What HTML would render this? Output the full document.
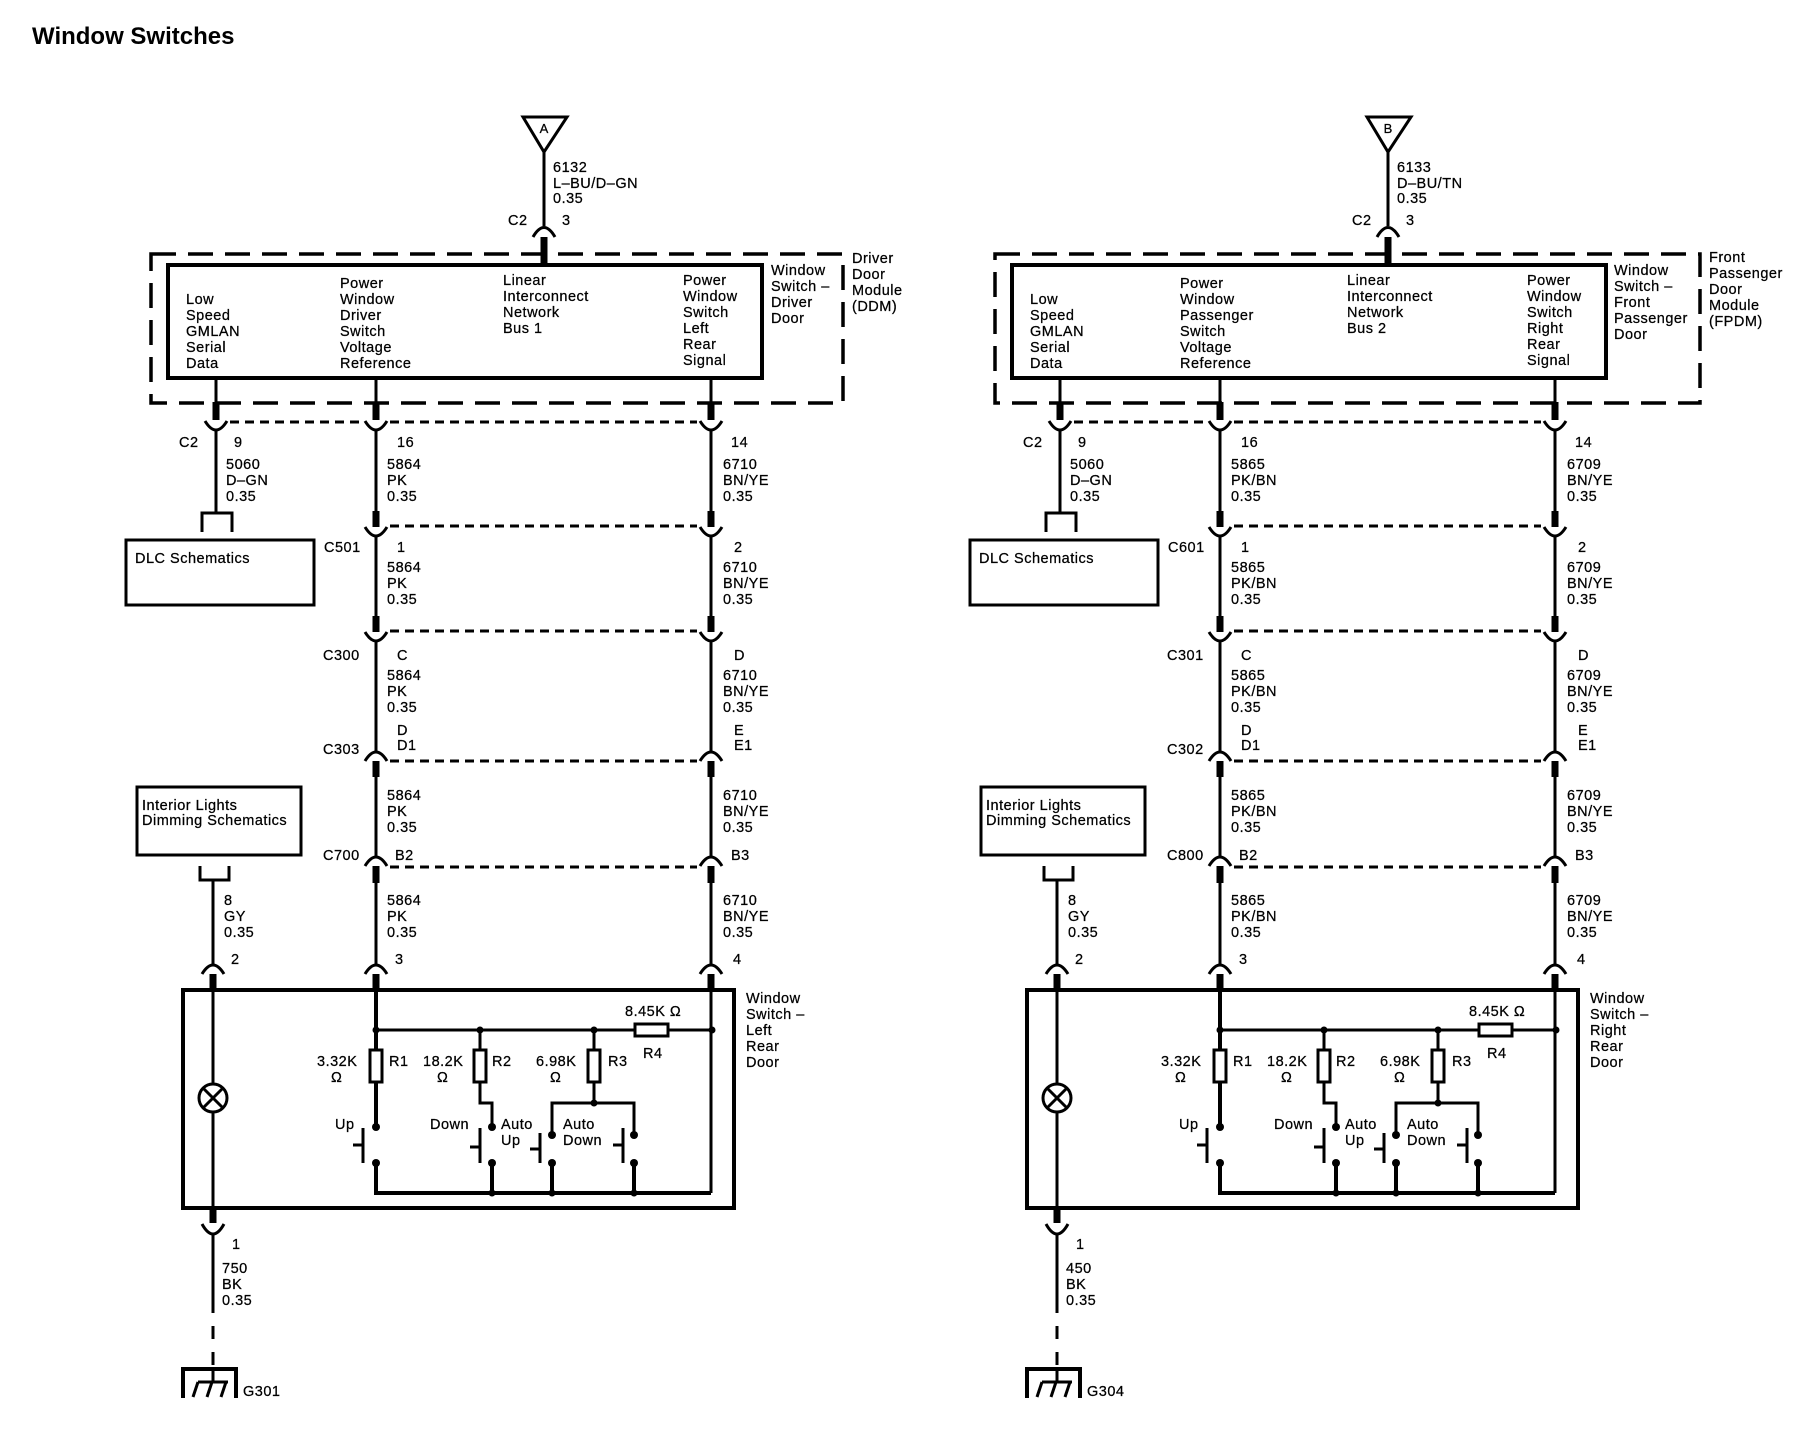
<!DOCTYPE html>
<html><head><meta charset="utf-8"><style>
html,body{margin:0;padding:0;background:#fff;}
svg{display:block;}
text{font-family:"Liberation Sans",Arial,sans-serif;font-size:14.5px;letter-spacing:0.5px;fill:#000;stroke:#000;stroke-width:0.25;}
.t{font-size:24px;font-weight:bold;letter-spacing:0;stroke-width:0;}
.w{stroke:#000;stroke-width:3;fill:none;}
.k{stroke:#000;stroke-width:7;fill:none;}
.s{stroke:#000;stroke-width:4;fill:none;}
.d{stroke:#000;stroke-width:3;fill:none;stroke-dasharray:9 6;}
.D{stroke:#000;stroke-width:3.5;fill:none;stroke-dasharray:25 12;}
.a{stroke:#000;stroke-width:3;fill:none;}
</style></head><body>
<svg width="1814" height="1440" viewBox="0 0 1814 1440" xmlns="http://www.w3.org/2000/svg">
<text class="t" x="32" y="44">Window Switches</text>
<defs>
<g id="L">
 <path d="M523,117 L567,117 L544,152 Z" class="w"/>
 <line x1="544" y1="152" x2="544" y2="226" class="w"/>
 <path d="M533,237 Q544,218 555,237" class="a"/>
 <line x1="544" y1="237" x2="544" y2="265" class="k"/>
 <rect x="168" y="265" width="594" height="113" class="s"/>
 <line x1="216" y1="378" x2="216" y2="402" class="w"/>
 <line x1="376" y1="378" x2="376" y2="402" class="w"/>
 <line x1="711" y1="378" x2="711" y2="402" class="w"/>
 <line x1="216" y1="402" x2="216" y2="420" class="k"/>
 <line x1="376" y1="402" x2="376" y2="420" class="k"/>
 <line x1="711" y1="402" x2="711" y2="420" class="k"/>
 <path d="M205,421 Q216,439 227,421" class="a"/>
 <path d="M365,421 Q376,439 387,421" class="a"/>
 <path d="M700,421 Q711,439 722,421" class="a"/>
 <line x1="230" y1="422" x2="362" y2="422" class="d"/>
 <line x1="390" y1="422" x2="697" y2="422" class="d"/>
 <line x1="216" y1="430" x2="216" y2="513" class="w"/>
 <path d="M202,532 L202,513 L232,513 L232,532" class="w"/>
 <rect x="126" y="540" width="188" height="65" class="w"/>
 <line x1="376" y1="430" x2="376" y2="511" class="w"/>
 <line x1="711" y1="430" x2="711" y2="511" class="w"/>
 <line x1="376" y1="511" x2="376" y2="527" class="k"/>
 <line x1="711" y1="511" x2="711" y2="527" class="k"/>
 <path d="M365,527 Q376,545 387,527" class="a"/>
 <path d="M700,527 Q711,545 722,527" class="a"/>
 <line x1="390" y1="526" x2="697" y2="526" class="d"/>
 <line x1="376" y1="536" x2="376" y2="616" class="w"/>
 <line x1="711" y1="536" x2="711" y2="616" class="w"/>
 <line x1="376" y1="616" x2="376" y2="632" class="k"/>
 <line x1="711" y1="616" x2="711" y2="632" class="k"/>
 <path d="M365,632 Q376,650 387,632" class="a"/>
 <path d="M700,632 Q711,650 722,632" class="a"/>
 <line x1="390" y1="631" x2="697" y2="631" class="d"/>
 <line x1="376" y1="641" x2="376" y2="752" class="w"/>
 <line x1="711" y1="641" x2="711" y2="752" class="w"/>
 <path d="M365,761 Q376,743 387,761" class="a"/>
 <path d="M700,761 Q711,743 722,761" class="a"/>
 <line x1="390" y1="761" x2="697" y2="761" class="d"/>
 <line x1="376" y1="761" x2="376" y2="777" class="k"/>
 <line x1="711" y1="761" x2="711" y2="777" class="k"/>
 <line x1="376" y1="777" x2="376" y2="857" class="w"/>
 <line x1="711" y1="777" x2="711" y2="857" class="w"/>
 <path d="M365,866 Q376,848 387,866" class="a"/>
 <path d="M700,866 Q711,848 722,866" class="a"/>
 <line x1="390" y1="867" x2="697" y2="867" class="d"/>
 <line x1="376" y1="866" x2="376" y2="883" class="k"/>
 <line x1="711" y1="866" x2="711" y2="883" class="k"/>
 <line x1="376" y1="883" x2="376" y2="965" class="w"/>
 <line x1="711" y1="883" x2="711" y2="965" class="w"/>
 <rect x="137" y="787" width="164" height="68" class="w"/>
 <path d="M200,866 L200,880 L229,880 L229,866" class="w"/>
 <line x1="213" y1="880" x2="213" y2="965" class="w"/>
 <path d="M202,974 Q213,956 224,974" class="a"/>
 <path d="M365,974 Q376,956 387,974" class="a"/>
 <path d="M700,974 Q711,956 722,974" class="a"/>
 <line x1="213" y1="974" x2="213" y2="992" class="k"/>
 <line x1="376" y1="974" x2="376" y2="992" class="k"/>
 <line x1="711" y1="974" x2="711" y2="992" class="k"/>
 <rect x="183" y="990" width="551" height="218" class="s"/>
 <line x1="213" y1="990" x2="213" y2="1084" class="w"/>
 <line x1="213" y1="1112" x2="213" y2="1208" class="w"/>
 <circle cx="213" cy="1098" r="14" class="w"/>
 <line x1="203" y1="1088" x2="223" y2="1108" class="w"/>
 <line x1="223" y1="1088" x2="203" y2="1108" class="w"/>
 <line x1="376" y1="990" x2="376" y2="1050" class="s"/>
 <line x1="711" y1="990" x2="711" y2="1193" class="w"/>
 <line x1="376" y1="1030" x2="635" y2="1030" class="w"/>
 <line x1="668" y1="1030" x2="711" y2="1030" class="w"/>
 <rect x="635" y="1024" width="33" height="12" class="w"/>
 <circle cx="376" cy="1030" r="3.5"/><circle cx="480" cy="1030" r="3.5"/><circle cx="594" cy="1030" r="3.5"/><circle cx="712" cy="1030" r="3.5"/>
 <rect x="370" y="1050" width="12" height="32" class="w"/>
 <rect x="474" y="1050" width="12" height="32" class="w"/>
 <rect x="588" y="1050" width="12" height="32" class="w"/>
 <line x1="480" y1="1030" x2="480" y2="1050" class="w"/>
 <line x1="594" y1="1030" x2="594" y2="1050" class="w"/>
 <line x1="376" y1="1082" x2="376" y2="1127" class="s"/>
 <path d="M480,1082 L480,1103 L492,1103 L492,1127" class="w"/>
 <path d="M594,1082 L594,1103" class="w"/>
 <path d="M552,1135 L552,1103 L634,1103 L634,1135" class="w"/>
 <circle cx="594" cy="1103" r="3.5"/>
 <circle cx="376" cy="1127" r="4"/><circle cx="492" cy="1127" r="4"/><circle cx="552" cy="1135" r="4"/><circle cx="634" cy="1135" r="4"/>
 <circle cx="376" cy="1163" r="4"/><circle cx="492" cy="1163" r="4"/><circle cx="552" cy="1163" r="4"/><circle cx="634" cy="1163" r="4"/>
 <path d="M376,1163 L376,1193 L711,1193" class="s"/>
 <line x1="492" y1="1163" x2="492" y2="1193" class="s"/>
 <line x1="552" y1="1163" x2="552" y2="1193" class="s"/>
 <line x1="634" y1="1163" x2="634" y2="1193" class="s"/>
 <circle cx="492" cy="1193" r="3.5"/><circle cx="552" cy="1193" r="3.5"/><circle cx="634" cy="1193" r="3.5"/>
 <path d="M363,1128 L363,1163 M353,1145 L363,1145" class="w"/>
 <path d="M480,1128 L480,1163 M470,1147 L480,1147" class="w"/>
 <path d="M540,1133 L540,1163 M530,1149 L540,1149" class="w"/>
 <path d="M623,1128 L623,1163 M613,1145 L623,1145" class="w"/>
 <line x1="213" y1="1208" x2="213" y2="1223" class="k"/>
 <path d="M202,1224 Q213,1244 224,1224" class="a"/>
 <line x1="213" y1="1234" x2="213" y2="1313" class="w"/>
 <line x1="213" y1="1313" x2="213" y2="1368" class="w" stroke-dasharray="13 13" style="stroke-dashoffset:-13"/>
 <path d="M183,1398 L183,1369 L236,1369 L236,1398" class="s"/>
 <line x1="213" y1="1369" x2="213" y2="1382" class="w"/>
 <path d="M193,1397 L198,1382 M207,1397 L212,1382 M221,1397 L226,1382 M198,1382 L228,1382" class="w"/>
</g>
</defs>
<use href="#L"/>
<use href="#L" x="844"/>
<rect x="151" y="254" width="692" height="149" class="D"/>
<rect x="995" y="254" width="705" height="149" class="D"/>

<g>
<text x="544" y="133" text-anchor="middle" style="font-size:13px;letter-spacing:0">A</text>
<text x="553" y="172">6132</text><text x="553" y="188">L–BU/D–GN</text><text x="553" y="203">0.35</text>
<text x="508" y="225">C2</text><text x="562" y="225">3</text>
<text x="186" y="304">Low</text><text x="186" y="320">Speed</text><text x="186" y="336">GMLAN</text><text x="186" y="352">Serial</text><text x="186" y="368">Data</text>
<text x="340" y="288">Power</text><text x="340" y="304">Window</text><text x="340" y="320">Driver</text><text x="340" y="336">Switch</text><text x="340" y="352">Voltage</text><text x="340" y="368">Reference</text>
<text x="503" y="285">Linear</text><text x="503" y="301">Interconnect</text><text x="503" y="317">Network</text><text x="503" y="333">Bus 1</text>
<text x="683" y="285">Power</text><text x="683" y="301">Window</text><text x="683" y="317">Switch</text><text x="683" y="333">Left</text><text x="683" y="349">Rear</text><text x="683" y="365">Signal</text>
<text x="771" y="275">Window</text><text x="771" y="291">Switch –</text><text x="771" y="307">Driver</text><text x="771" y="323">Door</text>
<text x="852" y="263">Driver</text><text x="852" y="279">Door</text><text x="852" y="295">Module</text><text x="852" y="311">(DDM)</text>
<text x="179" y="447">C2</text><text x="234" y="447">9</text><text x="397" y="447">16</text><text x="731" y="447">14</text>
<text x="226" y="469">5060</text><text x="226" y="485">D–GN</text><text x="226" y="501">0.35</text>
<text x="387" y="469">5864</text><text x="387" y="485">PK</text><text x="387" y="501">0.35</text>
<text x="723" y="469">6710</text><text x="723" y="485">BN/YE</text><text x="723" y="501">0.35</text>
<text x="135" y="563">DLC Schematics</text>
<text x="324" y="552">C501</text><text x="397" y="552">1</text><text x="734" y="552">2</text>
<text x="387" y="572">5864</text><text x="387" y="588">PK</text><text x="387" y="604">0.35</text>
<text x="723" y="572">6710</text><text x="723" y="588">BN/YE</text><text x="723" y="604">0.35</text>
<text x="323" y="660">C300</text><text x="397" y="660">C</text><text x="734" y="660">D</text>
<text x="387" y="680">5864</text><text x="387" y="696">PK</text><text x="387" y="712">0.35</text>
<text x="723" y="680">6710</text><text x="723" y="696">BN/YE</text><text x="723" y="712">0.35</text>
<text x="397" y="735">D</text><text x="397" y="750">D1</text><text x="734" y="735">E</text><text x="734" y="750">E1</text><text x="323" y="754">C303</text>
<text x="387" y="800">5864</text><text x="387" y="816">PK</text><text x="387" y="832">0.35</text>
<text x="723" y="800">6710</text><text x="723" y="816">BN/YE</text><text x="723" y="832">0.35</text>
<text x="142" y="810">Interior Lights</text><text x="142" y="825">Dimming Schematics</text>
<text x="323" y="860">C700</text><text x="395" y="860">B2</text><text x="731" y="860">B3</text>
<text x="224" y="905">8</text><text x="224" y="921">GY</text><text x="224" y="937">0.35</text>
<text x="387" y="905">5864</text><text x="387" y="921">PK</text><text x="387" y="937">0.35</text>
<text x="723" y="905">6710</text><text x="723" y="921">BN/YE</text><text x="723" y="937">0.35</text>
<text x="231" y="964">2</text><text x="395" y="964">3</text><text x="733" y="964">4</text>
<text x="746" y="1003">Window</text><text x="746" y="1019">Switch –</text><text x="746" y="1035">Left</text><text x="746" y="1051">Rear</text><text x="746" y="1067">Door</text>
<text x="625" y="1016">8.45K Ω</text><text x="643" y="1058">R4</text>
<text x="317" y="1066">3.32K</text><text x="331" y="1082">Ω</text><text x="389" y="1066">R1</text>
<text x="423" y="1066">18.2K</text><text x="437" y="1082">Ω</text><text x="492" y="1066">R2</text>
<text x="536" y="1066">6.98K</text><text x="550" y="1082">Ω</text><text x="608" y="1066">R3</text>
<text x="335" y="1129">Up</text><text x="430" y="1129">Down</text>
<text x="501" y="1129">Auto</text><text x="501" y="1145">Up</text>
<text x="563" y="1129">Auto</text><text x="563" y="1145">Down</text>
<text x="232" y="1249">1</text>
<text x="222" y="1273">750</text><text x="222" y="1289">BK</text><text x="222" y="1305">0.35</text>
<text x="243" y="1396">G301</text>
</g>

<g>
<text x="1388" y="133" text-anchor="middle" style="font-size:13px;letter-spacing:0">B</text>
<text x="1397" y="172">6133</text><text x="1397" y="188">D–BU/TN</text><text x="1397" y="203">0.35</text>
<text x="1352" y="225">C2</text><text x="1406" y="225">3</text>
<text x="1030" y="304">Low</text><text x="1030" y="320">Speed</text><text x="1030" y="336">GMLAN</text><text x="1030" y="352">Serial</text><text x="1030" y="368">Data</text>
<text x="1180" y="288">Power</text><text x="1180" y="304">Window</text><text x="1180" y="320">Passenger</text><text x="1180" y="336">Switch</text><text x="1180" y="352">Voltage</text><text x="1180" y="368">Reference</text>
<text x="1347" y="285">Linear</text><text x="1347" y="301">Interconnect</text><text x="1347" y="317">Network</text><text x="1347" y="333">Bus 2</text>
<text x="1527" y="285">Power</text><text x="1527" y="301">Window</text><text x="1527" y="317">Switch</text><text x="1527" y="333">Right</text><text x="1527" y="349">Rear</text><text x="1527" y="365">Signal</text>
<text x="1614" y="275">Window</text><text x="1614" y="291">Switch –</text><text x="1614" y="307">Front</text><text x="1614" y="323">Passenger</text><text x="1614" y="339">Door</text>
<text x="1709" y="262">Front</text><text x="1709" y="278">Passenger</text><text x="1709" y="294">Door</text><text x="1709" y="310">Module</text><text x="1709" y="326">(FPDM)</text>
<text x="1023" y="447">C2</text><text x="1078" y="447">9</text><text x="1241" y="447">16</text><text x="1575" y="447">14</text>
<text x="1070" y="469">5060</text><text x="1070" y="485">D–GN</text><text x="1070" y="501">0.35</text>
<text x="1231" y="469">5865</text><text x="1231" y="485">PK/BN</text><text x="1231" y="501">0.35</text>
<text x="1567" y="469">6709</text><text x="1567" y="485">BN/YE</text><text x="1567" y="501">0.35</text>
<text x="979" y="563">DLC Schematics</text>
<text x="1168" y="552">C601</text><text x="1241" y="552">1</text><text x="1578" y="552">2</text>
<text x="1231" y="572">5865</text><text x="1231" y="588">PK/BN</text><text x="1231" y="604">0.35</text>
<text x="1567" y="572">6709</text><text x="1567" y="588">BN/YE</text><text x="1567" y="604">0.35</text>
<text x="1167" y="660">C301</text><text x="1241" y="660">C</text><text x="1578" y="660">D</text>
<text x="1231" y="680">5865</text><text x="1231" y="696">PK/BN</text><text x="1231" y="712">0.35</text>
<text x="1567" y="680">6709</text><text x="1567" y="696">BN/YE</text><text x="1567" y="712">0.35</text>
<text x="1241" y="735">D</text><text x="1241" y="750">D1</text><text x="1578" y="735">E</text><text x="1578" y="750">E1</text><text x="1167" y="754">C302</text>
<text x="1231" y="800">5865</text><text x="1231" y="816">PK/BN</text><text x="1231" y="832">0.35</text>
<text x="1567" y="800">6709</text><text x="1567" y="816">BN/YE</text><text x="1567" y="832">0.35</text>
<text x="986" y="810">Interior Lights</text><text x="986" y="825">Dimming Schematics</text>
<text x="1167" y="860">C800</text><text x="1239" y="860">B2</text><text x="1575" y="860">B3</text>
<text x="1068" y="905">8</text><text x="1068" y="921">GY</text><text x="1068" y="937">0.35</text>
<text x="1231" y="905">5865</text><text x="1231" y="921">PK/BN</text><text x="1231" y="937">0.35</text>
<text x="1567" y="905">6709</text><text x="1567" y="921">BN/YE</text><text x="1567" y="937">0.35</text>
<text x="1075" y="964">2</text><text x="1239" y="964">3</text><text x="1577" y="964">4</text>
<text x="1590" y="1003">Window</text><text x="1590" y="1019">Switch –</text><text x="1590" y="1035">Right</text><text x="1590" y="1051">Rear</text><text x="1590" y="1067">Door</text>
<text x="1469" y="1016">8.45K Ω</text><text x="1487" y="1058">R4</text>
<text x="1161" y="1066">3.32K</text><text x="1175" y="1082">Ω</text><text x="1233" y="1066">R1</text>
<text x="1267" y="1066">18.2K</text><text x="1281" y="1082">Ω</text><text x="1336" y="1066">R2</text>
<text x="1380" y="1066">6.98K</text><text x="1394" y="1082">Ω</text><text x="1452" y="1066">R3</text>
<text x="1179" y="1129">Up</text><text x="1274" y="1129">Down</text>
<text x="1345" y="1129">Auto</text><text x="1345" y="1145">Up</text>
<text x="1407" y="1129">Auto</text><text x="1407" y="1145">Down</text>
<text x="1076" y="1249">1</text>
<text x="1066" y="1273">450</text><text x="1066" y="1289">BK</text><text x="1066" y="1305">0.35</text>
<text x="1087" y="1396">G304</text>
</g>
</svg>
</body></html>
